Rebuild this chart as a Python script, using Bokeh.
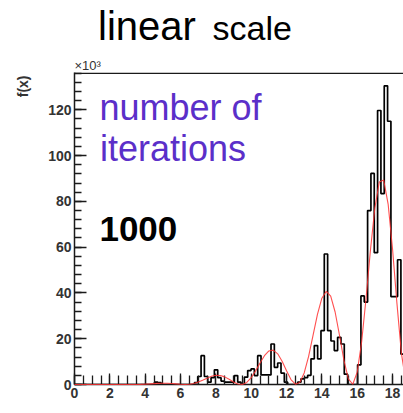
import numpy as np
from bokeh.plotting import figure
from bokeh.layouts import column
from bokeh.models import FixedTicker, Label, Span, Title, Range1d
from bokeh.embed import file_html
from bokeh.resources import INLINE

# Histogram: 100 equal bins on [0, 6*pi], contents in units of 10^3
hist_lo = 0.0
hist_hi = 18.85
hist_counts = [
    0, 0, 0, 0, 0, 0, 0, 0, 0, 0,
    0, 0, 0, 0, 0, 0, 0, 0, 0, 0,
    0, 0, 0, 0, 1.0, 0.8, 0, 0, 0, 0,
    0, 0, 0, 0, 0, 0, 0.8, 3.5, 12.6, 3.5,
    1.0, 3.0, 6.4, 3.0, 1.5, 1.0, 1.0, 1.0, 3.9, 1.0,
    0, 3.2, 6.1, 6.8, 3.9, 12.6, 4.2, 4.2, 4.2, 17.7,
    7.5, 9.4, 5.0, 1.0, 0, 0, 0, 1.0, 2.5, 3.0,
    4.0, 11.2, 17.0, 11.2, 23.5, 57.0, 23.5, 19.0, 14.8, 20.6,
    17.7, 4.5, 0, 0, 0, 8.6, 38.7, 36.0, 76.0, 92.2,
    57.6, 119.7, 83.4, 130.5, 115.0, 38.4, 38.4, 54.5, 13.3, 5.0,
]

# Reference function f(x), sampled every 0.25 from x = 0 (units of 10^3)
curve_step = 0.25
curve_vals = [
    0, 0, 0, 0, 0, 0, 0.01, 0.01, 0.01, 0.02,
    0.01, 0.01, 0.00, 0.00, 0.02, 0.06, 0.15, 0.26, 0.39, 0.51,
    0.57, 0.56, 0.46, 0.28, 0.10, 0.00, 0.08, 0.42, 1.04, 1.87,
    2.78, 3.57, 4.01, 3.94, 3.33, 2.29, 1.11, 0.22, 0.05, 0.92,
    2.96, 5.96, 9.41, 12.57, 14.64, 15.00, 13.41, 10.12, 5.97, 2.18,
    0.11, 0.88, 5.04, 12.30, 21.46, 30.64, 37.70, 40.71, 38.64, 31.67,
    21.41, 10.57, 2.46, 0.11, 5.43, 18.56, 37.56, 58.73, 77.20, 88.47,
    89.29, 78.84, 59.21, 35.32, 13.74, 1.22,
]

x_ticks = [0, 2, 4, 6, 8, 10, 12, 14, 16, 18]
x_minor = [i * 0.5 for i in range(38)]
y_ticks = [0, 20, 40, 60, 80, 100, 120]
y_minor = [i * 4 for i in range(35)]

FONT = "Liberation Sans"
AXIS_COLOR = "#1a1a1a"
LEFT = 74  # width of the left border holding the y axis

# ---- heading strip (pixel coordinates, y pointing down) ----
head = figure(width=403, height=72, title=None,
              x_range=Range1d(LEFT, 403), y_range=Range1d(72, 0),
              output_backend="svg", toolbar_location=None,
              x_axis_type=None, y_axis_type=None,
              min_border_left=LEFT, min_border_right=0,
              min_border_top=0, min_border_bottom=0)
head.outline_line_color = None
head.background_fill_color = "white"
head.border_fill_color = "white"
head.xgrid.visible = False
head.ygrid.visible = False


def head_label(x, y, text, size, color="black", style="normal"):
    head.add_layout(Label(x=x, y=y, text=text, text_font=FONT, text_font_size=size,
                          text_color=color, text_font_style=style,
                          text_baseline="middle"))


head_label(97.5, 25.8, "linear", "40px")
head_label(212, 27.8, "scale", "34px")
head_label(74, 64.7, "×10³", "13px", color="#333333")

# ---- main histogram plot ----
p = figure(width=403, height=341, title=None, x_range=(0, 18.62), y_range=(0, 136.3),
           output_backend="svg", toolbar_location=None,
           min_border_left=LEFT, min_border_right=0,
           min_border_top=0, min_border_bottom=29)
p.outline_line_color = None
p.background_fill_color = "white"
p.border_fill_color = "white"
p.xgrid.visible = False
p.ygrid.visible = False

for ax in (p.xaxis[0], p.yaxis[0]):
    ax.axis_line_color = AXIS_COLOR
    ax.axis_line_width = 1.5
    ax.major_tick_line_color = AXIS_COLOR
    ax.minor_tick_line_color = AXIS_COLOR
    ax.major_tick_line_width = 1.3
    ax.minor_tick_line_width = 1.3
    ax.major_tick_out = 0
    ax.minor_tick_out = 0
    ax.major_label_text_font = FONT
    ax.major_label_text_font_style = "bold"
    ax.major_label_text_font_size = "14px"
    ax.major_label_text_color = "#333333"
    ax.major_label_standoff = 3

p.xaxis[0].ticker = FixedTicker(ticks=x_ticks, minor_ticks=x_minor)
p.xaxis[0].major_tick_in = 11
p.xaxis[0].minor_tick_in = 9
p.yaxis[0].ticker = FixedTicker(ticks=y_ticks, minor_ticks=y_minor)
p.yaxis[0].major_tick_in = 12
p.yaxis[0].minor_tick_in = 7

# y axis title, placed at the top end of the axis
p.add_layout(Title(text="f(x)", align="right", vertical_align="top",
                   text_font=FONT, text_font_size="14px",
                   text_font_style="bold", text_color="#333333",
                   standoff=26, offset=3), "left")

# top edge of the frame
p.add_layout(Span(location=136.0, dimension="width", line_color=AXIS_COLOR,
                  line_width=1.5))

# histogram outline
n = len(hist_counts)
w = (hist_hi - hist_lo) / n
edges = [hist_lo + w * i for i in range(n + 1)]
hx, hy = [edges[0]], [0.0]
for i, c in enumerate(hist_counts):
    hx += [edges[i], edges[i + 1]]
    hy += [c, c]
hx.append(edges[-1])
hy.append(0.0)
p.line(hx, hy, line_color="black", line_width=1.7)

# function curve
cx = [i * curve_step for i in range(len(curve_vals))]
curve = p.line(cx, curve_vals, line_color="#ff3030", line_width=1.1, line_alpha=0.85)
curve.level = "overlay"


def label(x, y, text, size, color="black", style="normal"):
    p.add_layout(Label(x=x, y=y, text=text, text_font=FONT, text_font_size=size,
                       text_color=color, text_font_style=style,
                       text_baseline="middle"))


label(1.41, 120.8, "number of", "36px", color="#5b2fc9")
label(1.44, 103.1, "iterations", "36px", color="#5b2fc9")
label(1.41, 68.0, "1000", "35px", style="bold")

layout = column(head, p, spacing=0)
open("out.html", "w").write(file_html(layout, INLINE))
